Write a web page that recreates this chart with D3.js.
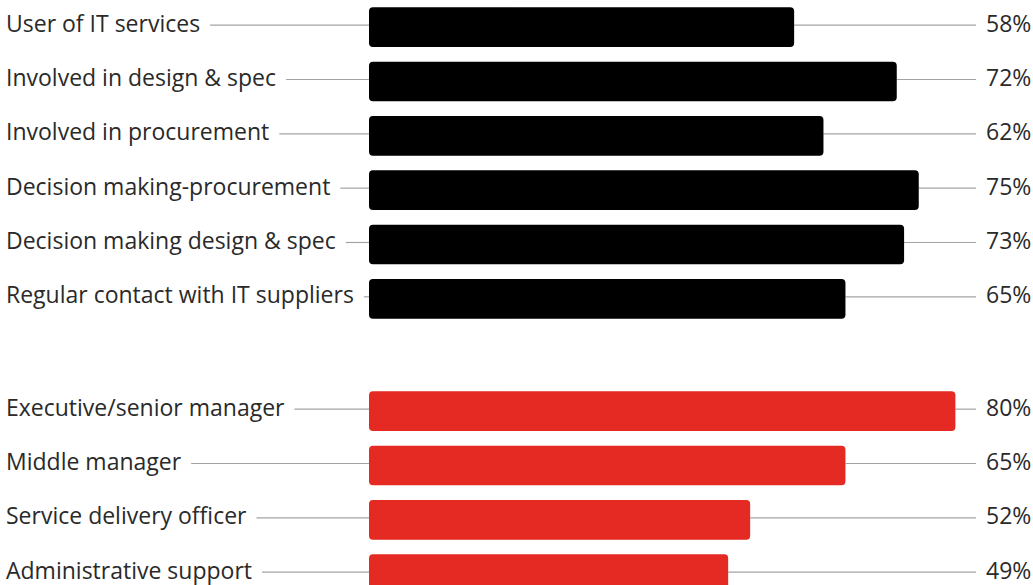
<!DOCTYPE html>
<html>
<head>
<meta charset="utf-8">
<script src="https://cdn.jsdelivr.net/npm/d3@7"></script>
<style>
  html, body { margin: 0; padding: 0; background: #fff; }
  svg { display: block; }
  text { font-family: "Open Sans", "Noto Sans", sans-serif; }
</style>
</head>
<body>
<svg id="chart" width="1033" height="585"></svg>
<script>
// Involvement with IT (black) and role in organisation (red)
const involvementCategories = [
  "User of IT services",
  "Involved in design & spec",
  "Involved in procurement",
  "Decision making-procurement",
  "Decision making design & spec",
  "Regular contact with IT suppliers"
];
const involvementValues = [58, 72, 62, 75, 73, 65];

const roleCategories = [
  "Executive/senior manager",
  "Middle manager",
  "Service delivery officer",
  "Administrative support"
];
const roleValues = [80, 65, 52, 49];

const svg = d3.select("#chart");

const x = d3.scaleLinear().domain([0, 100]).range([369, 1102]);

const groups = [
  { cats: involvementCategories, vals: involvementValues, color: "#000000", y0: 0 },
  { cats: roleCategories, vals: roleValues, color: "#e42a22", y0: 384 }
];

const step = 54.33;
const fontSize = 23;
const labelX = 6;
const valueX = 986;
const rightLineEnd = 976;
const lineColor = "#a3a3a3";
const textColor = "#2a2a2a";

groups.forEach(g => {
  const rows = g.cats.map((c, i) => ({ cat: c, val: g.vals[i] }));
  const y = d3.scaleBand()
    .domain(g.cats)
    .range([g.y0, g.y0 + step * g.cats.length])
    .paddingInner(0.27)
    .paddingOuter(0.135);

  const row = svg.append("g").selectAll("g")
    .data(rows)
    .join("g");

  const cy = d => y(d.cat) + y.bandwidth() / 2;

  // category label
  const labels = row.append("text")
    .attr("x", labelX)
    .attr("y", d => cy(d) + 4.4)
    .attr("font-size", fontSize)
    .attr("fill", textColor)
    .text(d => d.cat);

  // connector from label to bar start
  row.each(function (d, i) {
    const len = labels.nodes()[i].getComputedTextLength();
    d3.select(this).append("line")
      .attr("x1", labelX + len + 10)
      .attr("x2", x(0))
      .attr("y1", cy(d) - 2)
      .attr("y2", cy(d) - 2)
      .attr("stroke", lineColor)
      .attr("stroke-width", 1.2);
  });

  // connector from bar end to value label
  row.append("line")
    .attr("x1", d => x(d.val))
    .attr("x2", rightLineEnd)
    .attr("y1", d => cy(d) - 2)
    .attr("y2", d => cy(d) - 2)
    .attr("stroke", lineColor)
    .attr("stroke-width", 1.2);

  // bar
  row.append("rect")
    .attr("x", x(0))
    .attr("y", d => y(d.cat))
    .attr("width", d => x(d.val) - x(0))
    .attr("height", y.bandwidth())
    .attr("rx", 4)
    .attr("ry", 4)
    .attr("fill", g.color);

  // value label
  row.append("text")
    .attr("x", valueX)
    .attr("y", d => cy(d) + 4.4)
    .attr("font-size", fontSize)
    .attr("fill", textColor)
    .text(d => d.val + "%");
});
</script>
</body>
</html>
